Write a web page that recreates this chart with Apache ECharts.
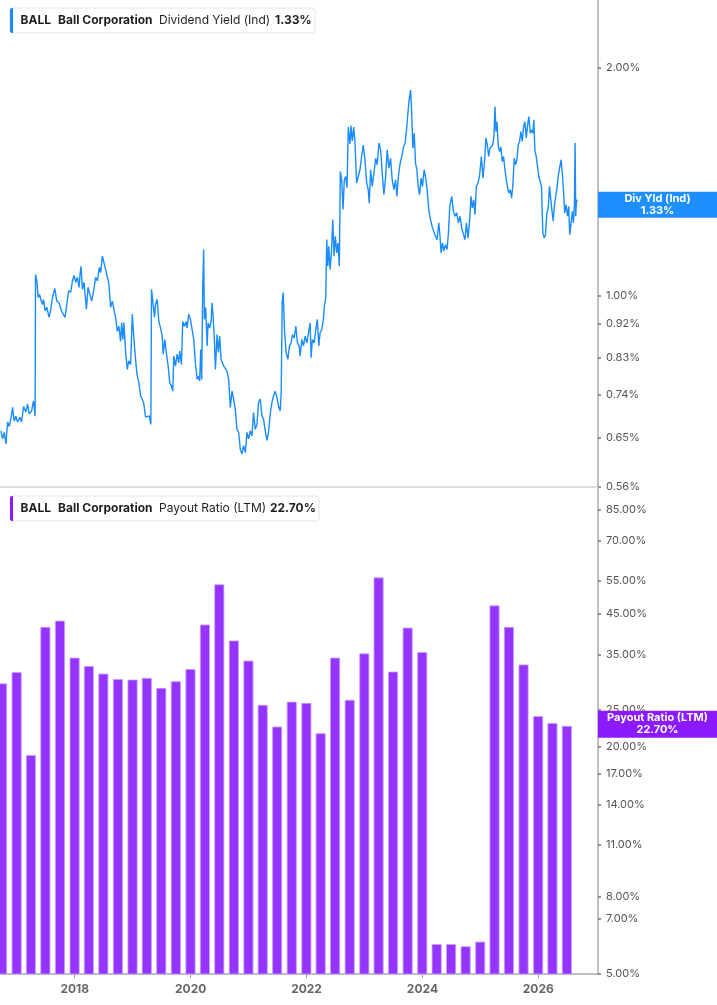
<!DOCTYPE html>
<html>
<head>
<meta charset="utf-8">
<script src="https://cdn.jsdelivr.net/npm/echarts@6/dist/echarts.min.js"></script>
<style>
html,body{margin:0;padding:0;background:#fff;}
#chart{width:717px;height:1005px;}
</style>
</head>
<body>
<div id="chart"></div>
<script>
// ---------- DATA ----------
const ticker = 'BALL';
const company = 'Ball Corporation';
const yieldName = 'Dividend Yield (Ind)';
const yieldShort = 'Div Yld (Ind)';
const payoutName = 'Payout Ratio (LTM)';

const xLabelYears = [2018, 2020, 2022, 2024, 2026];
const yieldTicks = [0.56, 0.65, 0.74, 0.83, 0.92, 1.00, 2.00];
const payoutTicks = [5, 7, 8, 11, 14, 17, 20, 25, 35, 45, 55, 70, 85];

// dividend yield (%) – time in decimal years
const yieldYears = [
2016.726,2016.755,2016.783,2016.812,2016.841,2016.869,2016.898,2016.927,2016.955,2016.984,
2017.013,2017.053,2017.082,2017.117,2017.156,2017.186,2017.213,2017.254,2017.289,2017.316,
2017.323,2017.346,2017.368,2017.392,2017.414,2017.444,2017.461,2017.489,2017.518,2017.557,
2017.587,2017.616,2017.655,2017.690,2017.729,2017.771,2017.805,2017.833,2017.874,2017.896,
2017.931,2017.960,2017.988,2018.017,2018.046,2018.074,2018.091,2018.108,2018.132,2018.160,
2018.201,2018.229,2018.263,2018.292,2018.322,2018.361,2018.391,2018.425,2018.447,2018.477,
2018.504,2018.533,2018.563,2018.590,2018.619,2018.649,2018.676,2018.705,2018.735,2018.762,
2018.791,2018.809,2018.831,2018.848,2018.878,2018.907,2018.934,2018.964,2018.993,2019.010,
2019.032,2019.062,2019.079,2019.106,2019.136,2019.165,2019.193,2019.222,2019.251,2019.286,
2019.313,2019.325,2019.348,2019.377,2019.394,2019.423,2019.451,2019.480,2019.509,2019.526,
2019.554,2019.583,2019.612,2019.640,2019.669,2019.692,2019.709,2019.738,2019.767,2019.795,
2019.812,2019.841,2019.864,2019.893,2019.922,2019.939,2019.967,2019.996,2020.025,2020.053,
2020.082,2020.112,2020.139,2020.156,2020.174,2020.191,2020.208,2020.225,2020.237,2020.260,
2020.284,2020.301,2020.329,2020.353,2020.370,2020.387,2020.410,2020.427,2020.456,2020.478,
2020.501,2020.525,2020.547,2020.570,2020.599,2020.628,2020.656,2020.685,2020.714,2020.742,
2020.771,2020.800,2020.828,2020.857,2020.886,2020.914,2020.943,2020.972,2021.000,2021.029,
2021.058,2021.086,2021.115,2021.144,2021.172,2021.201,2021.230,2021.258,2021.287,2021.317,
2021.344,2021.373,2021.403,2021.430,2021.459,2021.489,2021.516,2021.545,2021.563,2021.580,
2021.597,2021.619,2021.648,2021.678,2021.706,2021.735,2021.757,2021.787,2021.816,2021.843,
2021.872,2021.890,2021.919,2021.947,2021.976,2022.005,2022.033,2022.062,2022.079,2022.101,
2022.131,2022.160,2022.187,2022.212,2022.234,2022.263,2022.291,2022.308,2022.332,2022.349,
2022.366,2022.384,2022.406,2022.429,2022.453,2022.475,2022.497,2022.521,2022.544,2022.566,
2022.583,2022.607,2022.630,2022.652,2022.676,2022.699,2022.721,2022.750,2022.767,2022.790,
2022.814,2022.836,2022.865,2022.893,2022.922,2022.951,2022.979,2023.008,2023.038,2023.065,
2023.082,2023.106,2023.134,2023.163,2023.193,2023.220,2023.250,2023.279,2023.306,2023.336,
2023.365,2023.392,2023.421,2023.451,2023.478,2023.508,2023.537,2023.559,2023.588,2023.616,
2023.645,2023.675,2023.702,2023.726,2023.749,2023.771,2023.795,2023.813,2023.835,2023.858,
2023.881,2023.904,2023.926,2023.950,2023.978,2024.002,2024.029,2024.053,2024.081,2024.110,
2024.139,2024.167,2024.196,2024.225,2024.253,2024.282,2024.299,2024.322,2024.346,2024.369,
2024.398,2024.425,2024.449,2024.472,2024.506,2024.535,2024.563,2024.592,2024.621,2024.649,
2024.678,2024.708,2024.735,2024.759,2024.787,2024.816,2024.838,2024.862,2024.885,2024.907,
2024.931,2024.959,2024.988,2025.017,2025.045,2025.074,2025.096,2025.120,2025.143,2025.166,
2025.190,2025.212,2025.234,2025.252,2025.269,2025.286,2025.310,2025.332,2025.354,2025.378,
2025.401,2025.424,2025.448,2025.470,2025.492,2025.516,2025.539,2025.561,2025.585,2025.608,
2025.630,2025.654,2025.677,2025.699,2025.723,2025.745,2025.768,2025.792,2025.814,2025.837,
2025.861,2025.883,2025.906,2025.923,2025.940,2025.964,2025.986,2026.009,2026.033,2026.055,
2026.078,2026.102,2026.124,2026.147,2026.171,2026.193,2026.216,2026.233,2026.257,2026.279,
2026.301,2026.325,2026.347,2026.370,2026.394,2026.416,2026.433,2026.456,2026.480,2026.503,
2026.525,2026.542,2026.566,2026.589,2026.606,2026.623,2026.635,2026.646,2026.658,2026.675
];
const yieldValues = [
0.664,0.648,0.661,0.638,0.682,0.673,0.688,0.713,0.684,0.694,
0.682,0.692,0.682,0.715,0.703,0.720,0.699,0.705,0.727,0.694,
1.067,1.046,0.995,1.004,0.989,0.974,0.989,0.955,0.966,0.937,
0.960,0.995,1.023,0.984,0.980,0.955,0.951,0.937,0.989,1.015,
1.011,1.046,1.064,1.042,1.058,1.026,1.067,1.094,1.020,1.042,
0.960,1.026,1.020,0.984,1.011,1.058,1.046,1.090,1.073,1.128,
1.134,1.083,1.058,1.036,0.966,0.984,0.960,0.937,0.898,0.912,
0.871,0.922,0.876,0.922,0.843,0.800,0.821,0.812,0.946,0.903,
0.855,0.805,0.784,0.769,0.738,0.731,0.720,0.692,0.688,0.695,
0.677,1.020,1.026,0.937,0.974,0.989,0.925,0.908,0.885,0.838,
0.876,0.838,0.808,0.768,0.761,0.749,0.833,0.808,0.838,0.816,
0.846,0.812,0.925,0.912,0.925,0.907,0.946,0.931,0.936,0.876,
0.817,0.776,0.784,0.772,0.850,0.776,1.025,1.151,0.931,0.965,
0.859,0.921,0.907,0.925,0.979,0.940,0.876,0.800,0.889,0.842,
0.885,0.825,0.829,0.808,0.812,0.796,0.776,0.713,0.749,0.731,
0.709,0.667,0.661,0.628,0.619,0.635,0.622,0.661,0.648,0.664,
0.654,0.702,0.667,0.677,0.724,0.731,0.695,0.688,0.664,0.645,
0.661,0.699,0.724,0.738,0.749,0.735,0.716,0.705,0.745,0.984,
1.010,0.903,0.842,0.825,0.859,0.867,0.889,0.880,0.912,0.867,
0.859,0.833,0.876,0.859,0.885,0.867,0.894,0.921,0.829,0.876,
0.867,0.903,0.931,0.859,0.894,0.903,0.931,0.970,0.994,1.186,
1.094,1.162,1.083,1.139,1.260,1.128,1.198,1.139,1.174,1.094,
1.458,1.422,1.299,1.422,1.436,1.388,1.668,1.585,1.675,1.600,
1.668,1.592,1.408,1.436,1.466,1.526,1.580,1.511,1.408,1.380,
1.324,1.466,1.394,1.451,1.518,1.488,1.590,1.557,1.451,1.359,
1.436,1.557,1.473,1.518,1.422,1.380,1.422,1.352,1.444,1.496,
1.526,1.572,1.590,1.654,1.741,1.812,1.867,1.758,1.565,1.638,
1.496,1.466,1.394,1.359,1.429,1.394,1.466,1.436,1.380,1.299,
1.260,1.235,1.216,1.198,1.186,1.248,1.210,1.139,1.174,1.145,
1.168,1.151,1.210,1.312,1.352,1.292,1.273,1.286,1.248,1.273,
1.229,1.204,1.186,1.248,1.192,1.260,1.352,1.306,1.338,1.279,
1.394,1.408,1.444,1.526,1.429,1.511,1.614,1.580,1.526,1.565,
1.557,1.580,1.622,1.776,1.646,1.696,1.572,1.549,1.572,1.503,
1.526,1.466,1.422,1.388,1.366,1.380,1.345,1.401,1.518,1.488,
1.511,1.580,1.597,1.646,1.597,1.668,1.696,1.614,1.675,1.722,
1.638,1.654,1.638,1.705,1.557,1.526,1.481,1.436,1.429,1.394,
1.210,1.192,1.204,1.286,1.306,1.394,1.338,1.299,1.254,1.319,
1.352,1.394,1.444,1.444,1.511,1.444,1.380,1.286,1.319,1.273,
1.312,1.204,1.248,1.292,1.248,1.319,1.590,1.273,1.338,1.330
];

// payout ratio (LTM, %) – quarter ends
const payoutDates = [
'2016-09-30','2016-12-31','2017-03-31','2017-06-30','2017-09-30','2017-12-31',
'2018-03-31','2018-06-30','2018-09-30','2018-12-31',
'2019-03-31','2019-06-30','2019-09-30','2019-12-31',
'2020-03-31','2020-06-30','2020-09-30','2020-12-31',
'2021-03-31','2021-06-30','2021-09-30','2021-12-31',
'2022-03-31','2022-06-30','2022-09-30','2022-12-31',
'2023-03-31','2023-06-30','2023-09-30','2023-12-31',
'2024-03-31','2024-06-30','2024-09-30','2024-12-31',
'2025-03-31','2025-06-30','2025-09-30','2025-12-31',
'2026-03-31','2026-06-30'
];
const payoutValues = [
29.4,31.5,19.0,41.5,43.1,34.4,32.7,31.2,30.2,30.1,
30.4,28.6,29.8,32.1,42.1,53.8,38.2,33.8,25.8,22.6,
26.3,26.1,21.7,34.4,26.6,35.3,56.1,31.6,41.3,35.6,
6.0,6.0,5.92,6.09,47.3,41.5,33.0,24.1,23.1,22.7
];

const xMin = 2016.71, xMax = 2027.03;
const yieldMin = 0.56, yieldMax = 2.453;
const payoutMin = 5, payoutMax = 96.8;

// ---------- BUILD ----------
const L = Math.log10;
function toYear(s){
  const [y,m,d] = s.split('-').map(Number);
  const t0 = Date.UTC(y,0,1), t1 = Date.UTC(y+1,0,1);
  return y + (Date.UTC(y,m-1,d) - t0)/(t1 - t0);
}
const yieldData = yieldYears.map((t,i)=>[t, L(yieldValues[i])]);
const payoutData = payoutDates.map((d,i)=>[toYear(d), L(payoutValues[i])]);
const lastYield = yieldValues[yieldValues.length-1];
const lastPayout = payoutValues[payoutValues.length-1];
const lastYieldYear = yieldYears[yieldYears.length-1];
const lastPayoutYear = toYear(payoutDates[payoutDates.length-1]);

const FONT = 'Inter, "Noto Sans", sans-serif';
const BLUE = '#1a8cff', PURPLE = '#8c1aff', BAR = '#9634ff';
const pct = v => Math.pow(10, v).toFixed(2) + '%';

function legend(y, color, name, val, w, valX){
  const h = 25;
  return [
    {type:'rect', shape:{x:10,y:y,width:w,height:h,r:3}, style:{fill:'#fff',stroke:'#e4e4e4',lineWidth:1}, z:100},
    {type:'rect', shape:{x:10,y:y,width:3,height:h,r:[2,0,0,2]}, style:{fill:color}, z:101},
    {type:'text', x:20.5, y:y+h/2, style:{text:ticker, font:'bold 12px '+FONT, fill:'#1f1f1f', verticalAlign:'middle'}, z:101},
    {type:'text', x:58, y:y+h/2, style:{text:company, font:'bold 12px '+FONT, fill:'#1f1f1f', verticalAlign:'middle'}, z:101},
    {type:'text', x:159, y:y+h/2, style:{text:name, font:'12px '+FONT, fill:'#1f1f1f', verticalAlign:'middle'}, z:101},
    {type:'text', x:valX, y:y+h/2, style:{text:val, font:'bold 12px '+FONT, fill:'#1f1f1f', verticalAlign:'middle'}, z:101}
  ];
}

function valueTag(xIdx, yIdx, year, logVal, lines, bg, padB){
  return {
    type:'line', xAxisIndex:xIdx, yAxisIndex:yIdx, data:[[year, logVal]],
    showSymbol:false, symbol:'none', clip:false, silent:true, z:10,
    lineStyle:{color:'rgba(0,0,0,0)', width:0},
    markLine:{silent:true, symbol:'none', animation:false,
      lineStyle:{color:'rgba(0,0,0,0)', width:0, opacity:1},
      data:[{yAxis:logVal}],
      label:{show:true, position:'end', distance:0, opacity:1,
        formatter: lines.map(s=>'{a|'+s+'}').join('\n'),
        backgroundColor:bg, padding:[1,0,padB,0],
        rich:{a:{width:119, align:'center', color:'#fff', fontWeight:'bold', fontSize:11, lineHeight:12, fontFamily:FONT}}}}
  };
}

const rightAxisCommon = {
  position:'right',
  axisLine:{show:true, lineStyle:{color:'#ababab', width:1.5}},
  axisTick:{show:true, length:3, lineStyle:{color:'#777', width:1.5}},
  splitLine:{show:false},
  axisLabel:{color:'#555', fontSize:11, fontFamily:FONT, margin:8, formatter:pct}
};

const option = {
  animation:false,
  backgroundColor:'#fff',
  textStyle:{fontFamily:FONT},
  grid:[
    {left:0, right:119, top:0, height:487},
    {left:0, right:119, top:488, height:486}
  ],
  xAxis:[
    {type:'value', gridIndex:0, min:xMin, max:xMax,
     axisLine:{show:true, onZero:false, lineStyle:{color:'#dcdcdc', width:2}},
     axisTick:{show:false}, axisLabel:{show:false}, splitLine:{show:false}},
    {type:'value', gridIndex:1, min:xMin, max:xMax,
     axisLine:{show:true, onZero:false, lineStyle:{color:'#ababab', width:1.5}},
     axisTick:{show:true, length:4, lineStyle:{color:'#999'}, customValues:xLabelYears},
     axisLabel:{show:true, color:'#666', fontWeight:'bold', fontSize:12, fontFamily:FONT, margin:9,
       customValues:xLabelYears, formatter:v=>String(Math.round(v))},
     splitLine:{show:false}}
  ],
  yAxis:[
    Object.assign({}, rightAxisCommon, {type:'value', gridIndex:0, min:L(yieldMin), max:L(yieldMax),
      axisLabel:Object.assign({}, rightAxisCommon.axisLabel, {customValues:yieldTicks.map(L)}),
      axisTick:Object.assign({}, rightAxisCommon.axisTick, {customValues:yieldTicks.map(L)})}),
    Object.assign({}, rightAxisCommon, {type:'value', gridIndex:1, min:L(payoutMin), max:L(payoutMax),
      axisLabel:Object.assign({}, rightAxisCommon.axisLabel, {customValues:payoutTicks.map(L)}),
      axisTick:Object.assign({}, rightAxisCommon.axisTick, {customValues:payoutTicks.map(L)})})
  ],
  series:[
    {type:'line', xAxisIndex:0, yAxisIndex:0, data:yieldData, showSymbol:false, symbol:'none',
     lineStyle:{color:BLUE, width:1.4}, z:3},
    {type:'bar', xAxisIndex:1, yAxisIndex:1, data:payoutData, barWidth:10,
     itemStyle:{color:BAR, borderColor:'#c8a0ff', borderWidth:0.8}, z:3},
    valueTag(0, 0, lastYieldYear, L(lastYield), [yieldShort, lastYield.toFixed(2)+'%'], '#1e8fff', 1),
    valueTag(1, 1, lastPayoutYear, L(lastPayout), [payoutName, lastPayout.toFixed(2)+'%'], PURPLE, 2)
  ],
  graphic: legend(8, BLUE, yieldName, lastYield.toFixed(2)+'%', 305, 275)
    .concat(legend(496, PURPLE, payoutName, lastPayout.toFixed(2)+'%', 309, 270))
};

const chart = echarts.init(document.getElementById('chart'), null, {renderer:'canvas'});
chart.setOption(option);
</script>
</body>
</html>
